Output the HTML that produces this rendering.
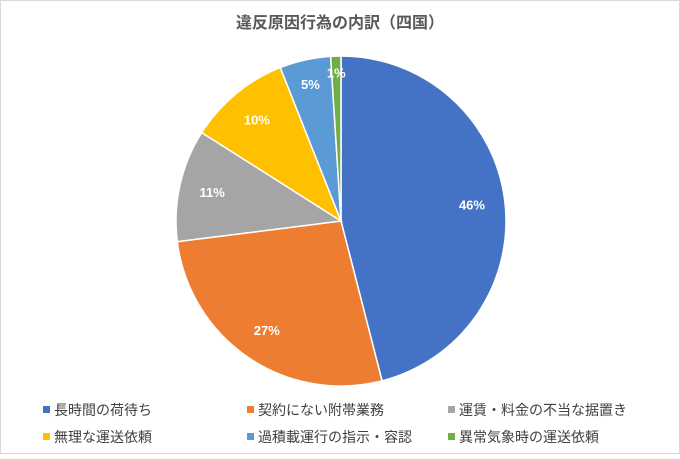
<!DOCTYPE html>
<html><head><meta charset="utf-8"><style>
body{margin:0;background:#fff}
svg text{font-family:"Liberation Sans","Noto Sans CJK JP",sans-serif}
</style></head><body>
<svg width="680" height="454" viewBox="0 0 680 454">
<rect x="0.5" y="0.5" width="679" height="453" fill="#fff" stroke="#d9d9d9"/>
<text x="340" y="28" text-anchor="middle" font-size="16" font-weight="bold" fill="#595959">違反原因行為の内訳（四国）</text>
<g id="slices"></g>
<g id="legend"></g>
</svg>
<script>
const categories=["長時間の荷待ち","契約にない附帯業務","運賃・料金の不当な据置き","無理な運送依頼","過積載運行の指示・容認","異常気象時の運送依頼"];
const values=[46,27,11,10,5,1];
const colors=["#4472c4","#ed7d31","#a5a5a5","#ffc000","#5b9bd5","#70ad47"];
const NS="http://www.w3.org/2000/svg";
const cx=341,cy=221,r=165;
const total=values.reduce((a,b)=>a+b,0);
const g=document.getElementById('slices');
let a0=-Math.PI/2;
function pt(a,rr){return [cx+rr*Math.cos(a),cy+rr*Math.sin(a)];}
values.forEach((v,i)=>{
  const a1=a0+v/total*2*Math.PI;
  const p0=pt(a0,r),p1=pt(a1,r);
  const large=(a1-a0)>Math.PI?1:0;
  const p=document.createElementNS(NS,'path');
  p.setAttribute('d',`M${cx},${cy}L${p0[0]},${p0[1]}A${r},${r} 0 ${large} 1 ${p1[0]},${p1[1]}Z`);
  p.setAttribute('fill',colors[i]);p.setAttribute('stroke','#fff');p.setAttribute('stroke-width','1.5');
  
  
  g.appendChild(p);
  const am=(a0+a1)/2;const rr=v<3?r*0.9:(v<8?r*0.85:r*0.8);
  const lp=pt(am,rr);
  const t=document.createElementNS(NS,'text');
  t.setAttribute('x',lp[0]);t.setAttribute('y',lp[1]+5);t.setAttribute('text-anchor','middle');
  t.setAttribute('font-size','13');t.setAttribute('font-weight','bold');
  t.setAttribute('fill','#fff');
  t.textContent=v+'%';
  
  
  g.appendChild(t);
  a0=a1;
});
const lg=document.getElementById('legend');
const lx=[43,247,448],ly=[410,437];
categories.forEach((c,i)=>{
  const x=lx[i%3],y=ly[Math.floor(i/3)];
  const e=document.createElementNS(NS,'g');
  
  
  const s=document.createElementNS(NS,'rect');
  s.setAttribute('x',x);s.setAttribute('y',y-4);s.setAttribute('width',7);s.setAttribute('height',7);s.setAttribute('fill',colors[i]);
  const t=document.createElementNS(NS,'text');
  t.setAttribute('x',x+11);t.setAttribute('y',y+5);t.setAttribute('font-size','14');t.setAttribute('fill','#404040');
  t.textContent=c;
  e.appendChild(s);e.appendChild(t);lg.appendChild(e);
});
</script>
</body></html>
